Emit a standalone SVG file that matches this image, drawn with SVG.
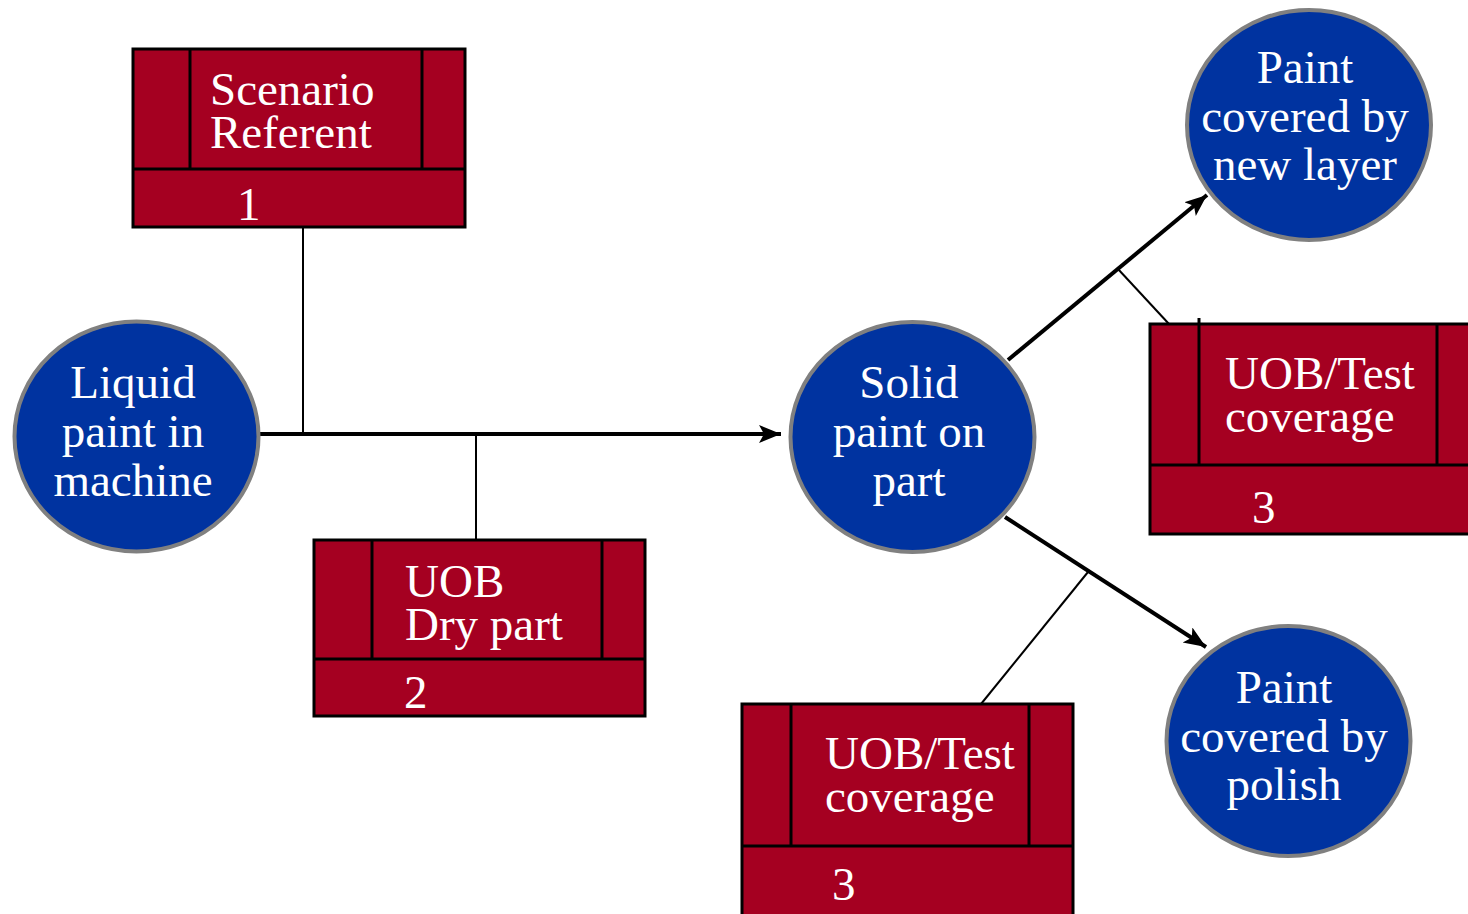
<svg xmlns="http://www.w3.org/2000/svg" width="1468" height="914" viewBox="0 0 1468 914">
  <style>
    .box { fill: #a50021; stroke: #000; stroke-width: 3; }
    .div { stroke: #000; stroke-width: 3; fill: none; }
    .state { fill: #0033a0; stroke: #808080; stroke-width: 4; }
    .lbl { font-family: "Liberation Serif", "Times New Roman", serif; font-size: 47px; fill: #fff; }
    .mid { text-anchor: middle; }
    .link { stroke: #000; stroke-width: 2; fill: none; }
    .flow { stroke: #000; stroke-width: 4; fill: none; }
  </style>
  <defs>
    <marker id="head" markerUnits="userSpaceOnUse" markerWidth="24" markerHeight="20" refX="22" refY="9" orient="auto">
      <path d="M0,0 L22,9 L0,18 L5,9 Z" fill="#000"/>
    </marker>
  </defs>

  <rect width="1468" height="914" fill="#fff"/>

  <!-- connectors -->
  <g id="connectors">
    <line class="link" x1="303" y1="227" x2="303" y2="434"/>
    <line class="link" x1="476" y1="434" x2="476" y2="540"/>
    <line class="flow" x1="260" y1="434" x2="781" y2="434" marker-end="url(#head)"/>
    <line class="flow" x1="1008" y1="360" x2="1207" y2="195" marker-end="url(#head)"/>
    <line class="flow" x1="1005" y1="517" x2="1206" y2="647" marker-end="url(#head)"/>
    <line class="link" x1="1118" y1="269" x2="1169" y2="324"/>
    <line class="link" x1="1088" y1="572" x2="981" y2="704"/>
  </g>

  <!-- UOB boxes -->
  <g id="uob-scenario">
    <rect class="box" x="133" y="49" width="332" height="178"/>
    <line class="div" x1="133" y1="169" x2="465" y2="169"/>
    <line class="div" x1="190" y1="48" x2="190" y2="169"/>
    <line class="div" x1="422" y1="48" x2="422" y2="169"/>
    <text class="lbl" x="210" y="105">Scenario</text>
    <text class="lbl" x="210" y="148">Referent</text>
    <text class="lbl" x="237" y="220">1</text>
  </g>

  <g id="uob-dry">
    <rect class="box" x="314" y="540" width="331" height="176"/>
    <line class="div" x1="314" y1="659" x2="645" y2="659"/>
    <line class="div" x1="372" y1="540" x2="372" y2="659"/>
    <line class="div" x1="602" y1="540" x2="602" y2="659"/>
    <text class="lbl" x="405" y="597">UOB</text>
    <text class="lbl" x="405" y="640">Dry part</text>
    <text class="lbl" x="404" y="708">2</text>
  </g>

  <g id="uob-test-upper">
    <rect class="box" x="1150" y="324" width="322" height="210"/>
    <line class="div" x1="1150" y1="465" x2="1470" y2="465"/>
    <line class="div" x1="1199" y1="318" x2="1199" y2="465"/>
    <line class="div" x1="1437" y1="324" x2="1437" y2="465"/>
    <text class="lbl" x="1225" y="389">UOB/Test</text>
    <text class="lbl" x="1225" y="432">coverage</text>
    <text class="lbl" x="1252" y="523">3</text>
  </g>

  <g id="uob-test-lower">
    <rect class="box" x="742" y="704" width="331" height="214"/>
    <line class="div" x1="742" y1="846" x2="1073" y2="846"/>
    <line class="div" x1="791" y1="704" x2="791" y2="846"/>
    <line class="div" x1="1029" y1="704" x2="1029" y2="846"/>
    <text class="lbl" x="825" y="769">UOB/Test</text>
    <text class="lbl" x="825" y="812">coverage</text>
    <text class="lbl" x="832" y="900">3</text>
  </g>

  <!-- states -->
  <g id="state-liquid">
    <ellipse class="state" cx="136.5" cy="436.5" rx="122" ry="115"/>
    <text class="lbl mid" x="133" y="398">Liquid</text>
    <text class="lbl mid" x="133" y="447">paint in</text>
    <text class="lbl mid" x="133" y="496">machine</text>
  </g>

  <g id="state-solid">
    <ellipse class="state" cx="912.5" cy="437" rx="122" ry="115"/>
    <text class="lbl mid" x="909" y="398">Solid</text>
    <text class="lbl mid" x="909" y="447">paint on</text>
    <text class="lbl mid" x="909" y="496">part</text>
  </g>

  <g id="state-new-layer">
    <ellipse class="state" cx="1309" cy="125" rx="122" ry="115"/>
    <text class="lbl mid" x="1305" y="83">Paint</text>
    <text class="lbl mid" x="1305" y="132">covered by</text>
    <text class="lbl mid" x="1305" y="180">new layer</text>
  </g>

  <g id="state-polish">
    <ellipse class="state" cx="1288.5" cy="741" rx="122" ry="115"/>
    <text class="lbl mid" x="1284" y="703">Paint</text>
    <text class="lbl mid" x="1284" y="752">covered by</text>
    <text class="lbl mid" x="1284" y="800">polish</text>
  </g>
</svg>
